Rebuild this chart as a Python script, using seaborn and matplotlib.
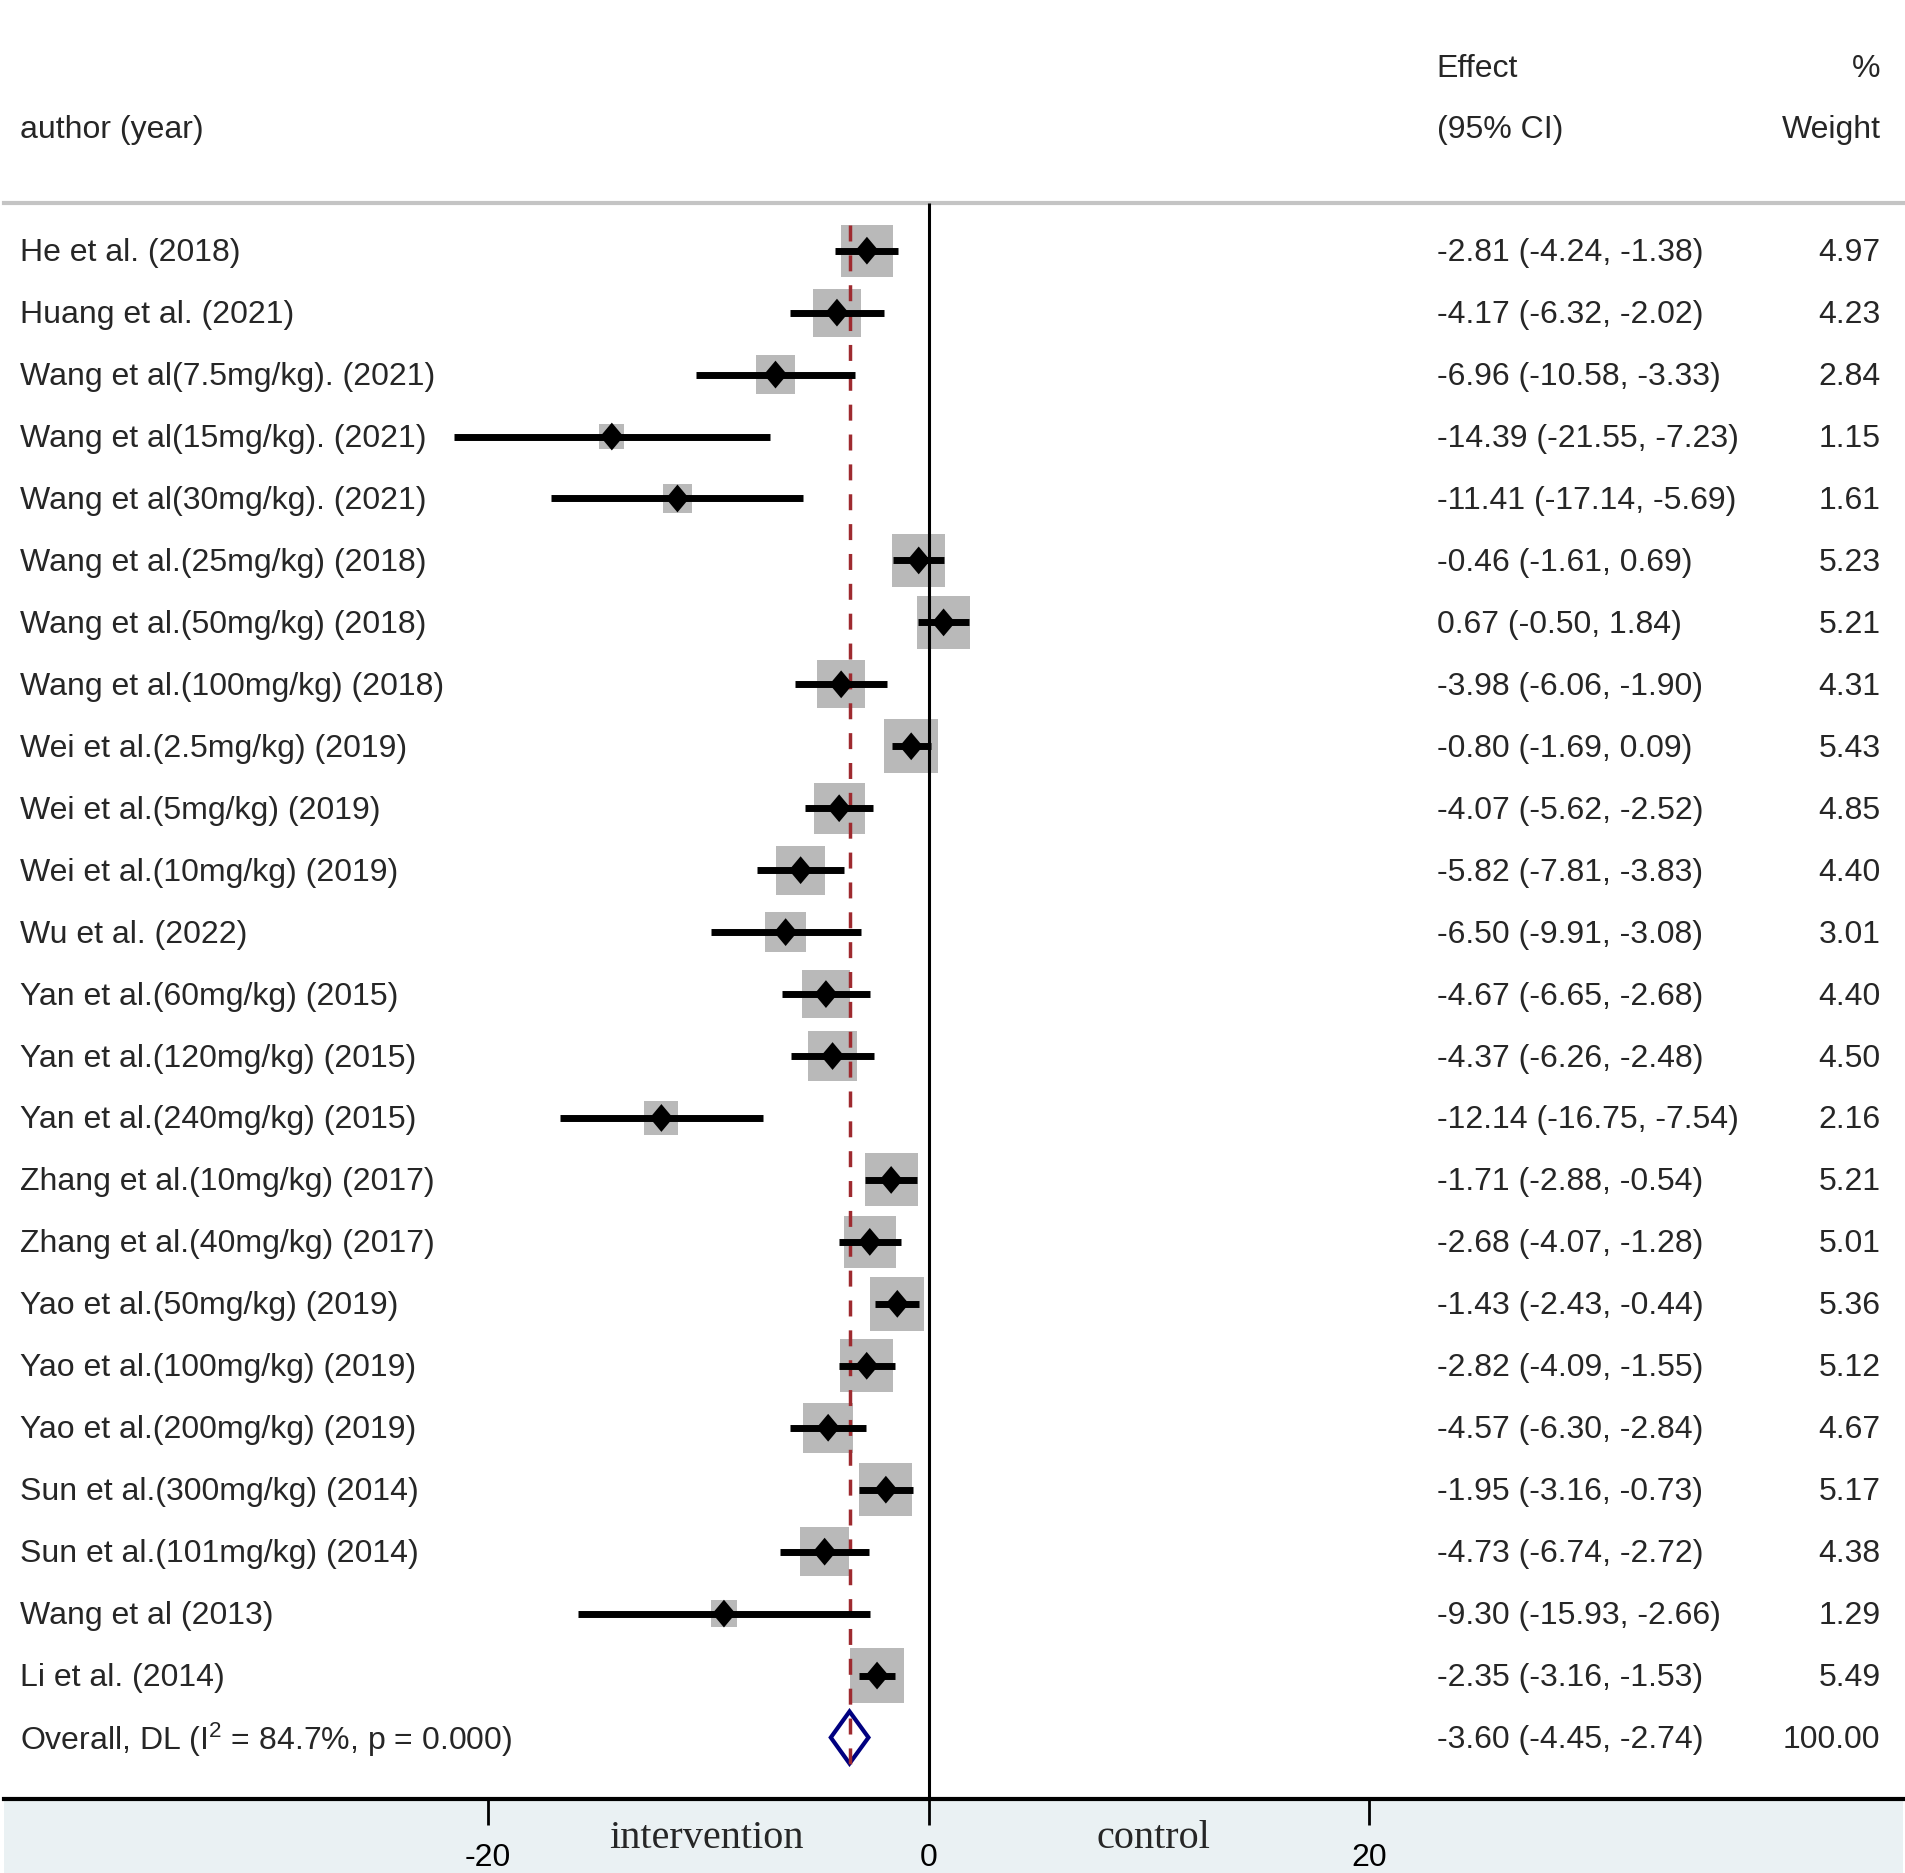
import numpy as np
import pandas as pd
import seaborn as sns
import matplotlib.pyplot as plt
from matplotlib.patches import Rectangle

studies = ["He et al. (2018)", "Huang et al. (2021)", "Wang et al(7.5mg/kg). (2021)",
           "Wang et al(15mg/kg). (2021)", "Wang et al(30mg/kg). (2021)",
           "Wang et al.(25mg/kg) (2018)", "Wang et al.(50mg/kg) (2018)",
           "Wang et al.(100mg/kg) (2018)", "Wei et al.(2.5mg/kg) (2019)",
           "Wei et al.(5mg/kg) (2019)", "Wei et al.(10mg/kg) (2019)", "Wu et al. (2022)",
           "Yan et al.(60mg/kg) (2015)", "Yan et al.(120mg/kg) (2015)",
           "Yan et al.(240mg/kg) (2015)", "Zhang et al.(10mg/kg) (2017)",
           "Zhang et al.(40mg/kg) (2017)", "Yao et al.(50mg/kg) (2019)",
           "Yao et al.(100mg/kg) (2019)", "Yao et al.(200mg/kg) (2019)",
           "Sun et al.(300mg/kg) (2014)", "Sun et al.(101mg/kg) (2014)",
           "Wang et al (2013)", "Li et al. (2014)"]
effect = [-2.81, -4.17, -6.96, -14.39, -11.41, -0.46, 0.67, -3.98, -0.80, -4.07, -5.82, -6.50,
          -4.67, -4.37, -12.14, -1.71, -2.68, -1.43, -2.82, -4.57, -1.95, -4.73, -9.30, -2.35]
ci_low = [-4.24, -6.32, -10.58, -21.55, -17.14, -1.61, -0.50, -6.06, -1.69, -5.62, -7.81, -9.91,
          -6.65, -6.26, -16.75, -2.88, -4.07, -2.43, -4.09, -6.30, -3.16, -6.74, -15.93, -3.16]
ci_high = [-1.38, -2.02, -3.33, -7.23, -5.69, 0.69, 1.84, -1.90, 0.09, -2.52, -3.83, -3.08,
           -2.68, -2.48, -7.54, -0.54, -1.28, -0.44, -1.55, -2.84, -0.73, -2.72, -2.66, -1.53]
weight = [4.97, 4.23, 2.84, 1.15, 1.61, 5.23, 5.21, 4.31, 5.43, 4.85, 4.40, 3.01,
          4.40, 4.50, 2.16, 5.21, 5.01, 5.36, 5.12, 4.67, 5.17, 4.38, 1.29, 5.49]
overall_label = "Overall, DL (I$^{2}$ = 84.7%, p = 0.000)"
overall = (-3.60, -4.45, -2.74)
x_ticks = [-20, 0, 20]

df = pd.DataFrame({"study": studies, "effect": effect, "lo": ci_low, "hi": ci_high,
                   "weight": weight})
df["row"] = np.arange(len(df))

sns.set_style("white")
plt.rcParams["font.family"] = ["Liberation Sans", "DejaVu Sans"]
plt.rcParams["mathtext.fontset"] = "custom"
plt.rcParams["mathtext.rm"] = "Liberation Sans"
plt.rcParams["mathtext.it"] = "Liberation Sans"

fs = 23
fig = plt.figure(figsize=(19.05, 18.73), dpi=100)
ax = fig.add_axes([0.002, 0.0396, 0.9967, 0.8519])
ax.set_xlim(-41.99, 44.2)
ax.set_ylim(24.99, -0.766)

# light band under the axis
fig.patches.append(Rectangle((0.002, 0), 0.9967, 0.0396, transform=fig.transFigure,
                             facecolor="#eaf1f3", edgecolor="none", zorder=-5))

# weight boxes, area proportional to weight
k = 280
sns.scatterplot(data=df, x="effect", y="row", size="weight",
                sizes=(k * df.weight.min(), k * df.weight.max()), marker="s",
                color="#b9b9b9", edgecolor="none", linewidth=0, legend=False, ax=ax, zorder=2)

ax.vlines(overall[0], -0.41, 24.44, colors="#9e2a2f", linestyles=(0, (4.6, 4.0)),
          linewidth=2.5, zorder=3)
ax.vlines(0, -0.766, 24.99, colors="black", linewidth=2.2, zorder=3)
ax.hlines(df.row, df.lo, df.hi, colors="black", linewidth=5, zorder=4)

dmark = [(0, 1), (0.84, 0), (0, -1), (-0.84, 0), (0, 1)]
sns.scatterplot(data=df, x="effect", y="row", marker=dmark, s=400, color="black",
                edgecolor="none", linewidth=0, legend=False, ax=ax, zorder=5)

# overall diamond
r = len(df)
ax.fill([overall[1], overall[0], overall[2], overall[0]], [r, r - 0.42, r, r + 0.42],
        facecolor="none", edgecolor="#000080", linewidth=3, zorder=2.5)

# text columns
x_lab, x_eff, x_w = -41.27, 23.05, 43.2
dy = 0.04
for _, d in df.iterrows():
    ax.text(x_lab, d.row + dy, d.study, fontsize=fs, va="center")
    ax.text(x_eff, d.row + dy, f"{d.effect:.2f} ({d.lo:.2f}, {d.hi:.2f})", fontsize=fs, va="center")
    ax.text(x_w, d.row + dy, f"{d.weight:.2f}", fontsize=fs, va="center", ha="right")
ax.text(x_lab, r + dy, overall_label, fontsize=fs, va="center")
ax.text(x_eff, r + dy, f"{overall[0]:.2f} ({overall[1]:.2f}, {overall[2]:.2f})", fontsize=fs, va="center")
ax.text(x_w, r + dy, "100.00", fontsize=fs, va="center", ha="right")

ax.text(x_eff, -2.97 + dy, "Effect", fontsize=fs, va="center", clip_on=False)
ax.text(x_eff, -1.98 + dy, "(95% CI)", fontsize=fs, va="center", clip_on=False)
ax.text(x_w, -2.97 + dy, "%", fontsize=fs, va="center", ha="right", clip_on=False)
ax.text(x_w, -1.98 + dy, "Weight", fontsize=fs, va="center", ha="right", clip_on=False)
ax.text(x_lab, -1.98 + dy, "author (year)", fontsize=fs, va="center", clip_on=False)

# x axis
ax.set_xticks(x_ticks)
ax.set_xticklabels([str(t) for t in x_ticks], fontsize=fs)
ax.tick_params(axis="x", direction="out", length=19, width=2, pad=13, bottom=True, colors="black")
ax.set_yticks([])
ax.set_xlabel("")
ax.set_ylabel("")
for s in ["left", "right"]:
    ax.spines[s].set_visible(False)
ax.spines["bottom"].set_linewidth(3)
ax.spines["bottom"].set_color("black")
ax.spines["top"].set_linewidth(3)
ax.spines["top"].set_color("#c4c4c4")

xt = ax.get_xaxis_transform()
ax.text(-10.1, -0.025, "intervention", transform=xt, fontsize=29,
        family="Liberation Serif", ha="center", va="center", clip_on=False)
ax.text(10.2, -0.025, "control", transform=xt, fontsize=29,
        family="Liberation Serif", ha="center", va="center", clip_on=False)

fig.savefig("out.png", dpi=100, facecolor="white")
